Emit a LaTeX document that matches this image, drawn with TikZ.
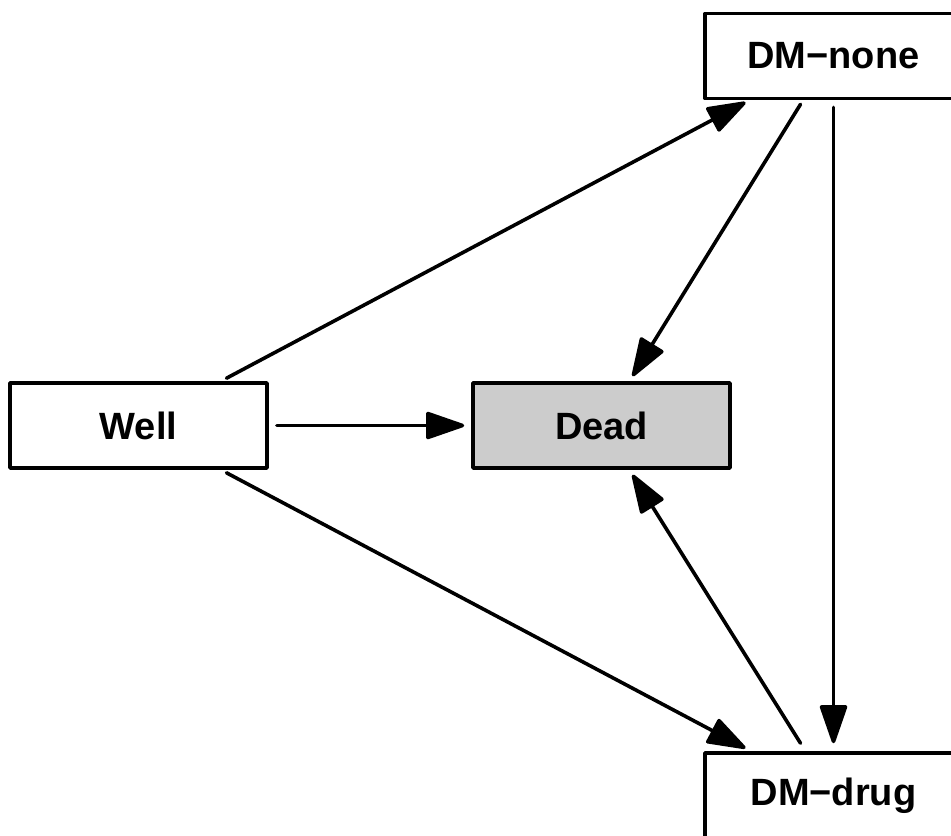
\documentclass[tikz,border=0pt]{standalone}
\usepackage{fontspec}
\setmainfont{Liberation Sans}
\usetikzlibrary{arrows.meta,positioning}

\begin{document}
\begin{tikzpicture}[x=0.5pt,y=-0.5pt,line width=1.8pt,line join=round,
    >={Triangle[length=21pt,width=14pt,round]},node distance=231.5pt,on grid,
    box/.style={draw,rectangle,minimum width=128.5pt,minimum height=42.5pt,
      inner sep=0pt,font=\bfseries\fontsize{19}{22}\selectfont}]
   \useasboundingbox (0,0) rectangle (951,835);
   \node[box] (well) at (138.5,425.5) {Well};
   \node[box,fill=black!20] (dead) [right =of well] {Dead};
   \node[box] (dm_none) [above right =184.75pt and 116pt of dead] {DM−none};
   \node[box] (dm_drug) [below right =185pt and 116pt of dead] {DM−drug};

    \path[->,line cap=round]
    ([xshift=44pt,yshift=1.5pt]well.north) edge ([xshift=-44pt,yshift=-1pt]dm_none.south)
    ([xshift=4pt]well.east) edge ([xshift=-3.5pt]dead.west)
    ([xshift=44pt,yshift=-1.5pt]well.south) edge ([xshift=-44pt,yshift=1.5pt]dm_drug.north)
    ([xshift=-16.5pt,yshift=-2pt]dm_none.south) edge ([xshift=15.5pt,yshift=2.5pt]dead.north)
    ([yshift=-3.5pt]dm_none.south) edge ([yshift=4pt]dm_drug.north)
    ([xshift=-16.5pt,yshift=4pt]dm_drug.north) edge ([xshift=15.5pt,yshift=-2.5pt]dead.south);
\end{tikzpicture}
\end{document}
